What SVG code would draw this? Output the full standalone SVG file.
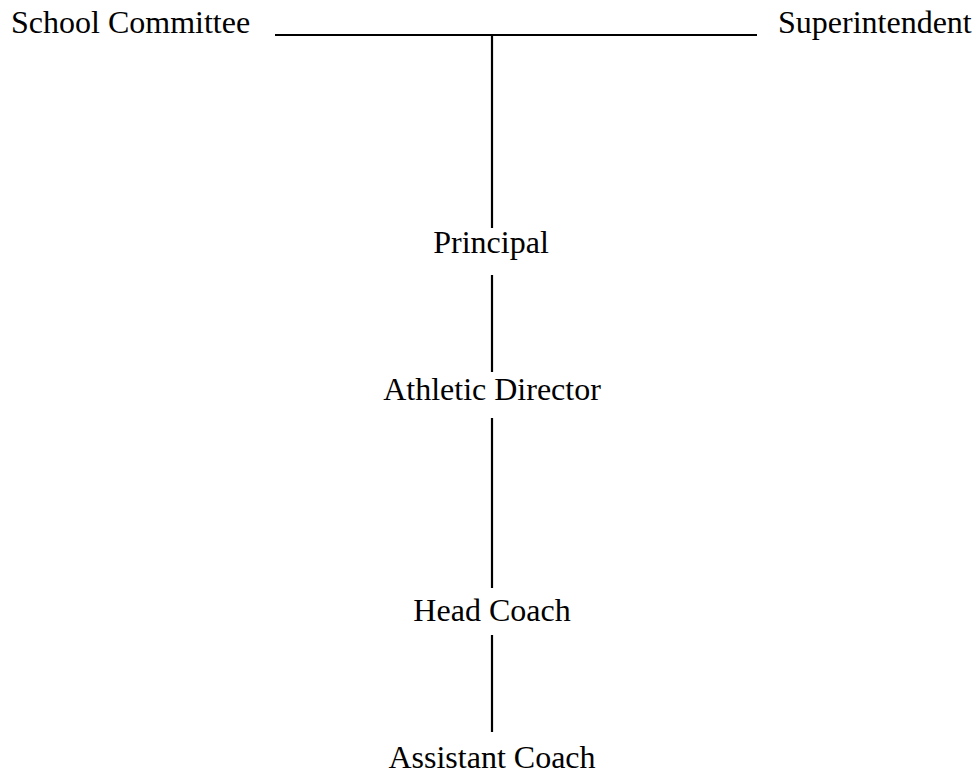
<svg xmlns="http://www.w3.org/2000/svg" width="980" height="776" viewBox="0 0 980 776">
<style>
text{font-family:"Liberation Serif","Times New Roman",serif;font-size:32px;fill:#000}
.c{text-anchor:middle}
line{stroke:#000;stroke-width:2.2}
</style>
<rect width="980" height="776" fill="#fff"/>
<g id="connectors">
<line x1="275" y1="35" x2="757" y2="35"/>
<line x1="492" y1="35" x2="492" y2="228"/>
<line x1="492" y1="275" x2="492" y2="372"/>
<line x1="492" y1="418" x2="492" y2="588"/>
<line x1="492" y1="635" x2="492" y2="732"/>
</g>
<g id="school-committee"><text x="11" y="33">School Committee</text></g>
<g id="superintendent"><text x="778" y="33">Superintendent</text></g>
<g id="principal"><text class="c" x="491" y="253">Principal</text></g>
<g id="athletic-director"><text class="c" x="492" y="400">Athletic Director</text></g>
<g id="head-coach"><text class="c" x="492" y="621">Head Coach</text></g>
<g id="assistant-coach"><text class="c" x="492" y="768">Assistant Coach</text></g>
</svg>
